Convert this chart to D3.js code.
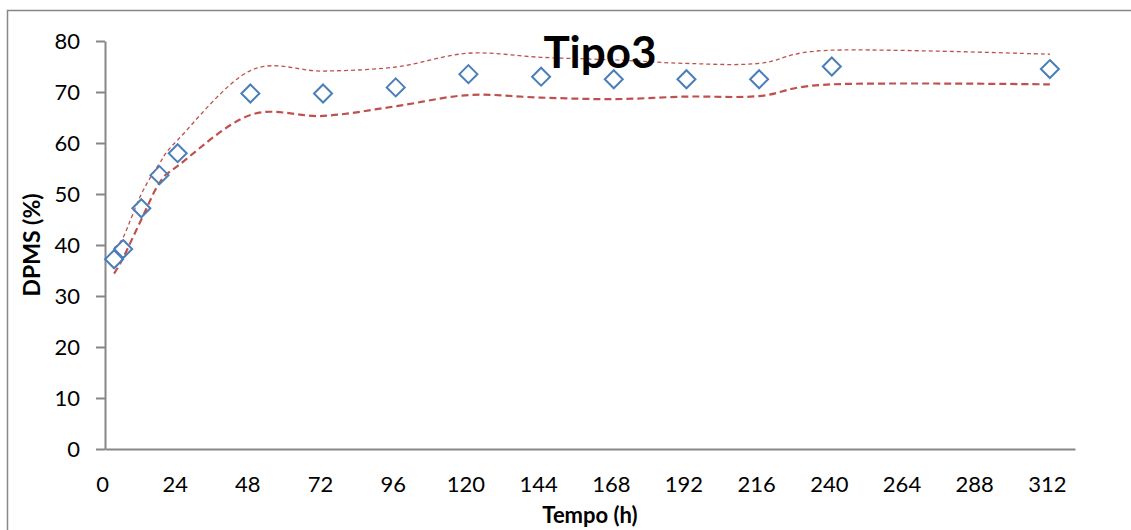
<!DOCTYPE html>
<html>
<head>
<meta charset="utf-8">
<script src="https://cdn.jsdelivr.net/npm/d3@7"></script>
<style>
  html, body { margin: 0; padding: 0; background: #fff; }
  svg { display: block; }
  text { font-family: Lato, "Open Sans", sans-serif; fill: #000; }
</style>
</head>
<body>
<svg id="chart" width="1131" height="530"></svg>
<script>
// ---- data ----
const hours = [3, 6, 12, 18, 24, 48, 72, 96, 120, 144, 168, 192, 216, 240, 312];
const dpms  = [37.2, 39.2, 47.2, 53.7, 58.0, 69.7, 69.7, 70.9, 73.5, 73.0, 72.5, 72.5, 72.5, 75.0, 74.5];
const upper = [39.5, 41.5, 50.0, 56.0, 60.6, 74.2, 74.1, 74.9, 77.6, 76.8, 76.3, 75.6, 75.6, 78.2, 77.4];
const lower = [34.4, 37.5, 45.0, 52.2, 55.5, 65.5, 65.3, 67.2, 69.4, 68.9, 68.6, 69.1, 69.2, 71.5, 71.5];
const xTicks = [0, 24, 48, 72, 96, 120, 144, 168, 192, 216, 240, 264, 288, 312];
const yTicks = [0, 10, 20, 30, 40, 50, 60, 70, 80];
const title = "Tipo3";
const xTitle = "Tempo (h)";
const yTitle = "DPMS (%)";

// ---- layout ----
const svg = d3.select("#chart");
const mLeft = 105, mRight = 1075, mTop = 41, mBottom = 449;
const axisColor = "#878787";
const red = "#c0504d";
const blue = "#4a7ebb";

// outer frame
svg.append("rect")
  .attr("x", 7.5).attr("y", 10.5)
  .attr("width", 1200).attr("height", 600)
  .attr("fill", "none").attr("stroke", axisColor).attr("stroke-width", 1.5);

const x = d3.scaleLinear().domain([0, 320.3]).range([mLeft, mRight]);
const y = d3.scaleLinear().domain([0, 80]).range([mBottom, mTop]);

// y axis
const yAxis = svg.append("g")
  .attr("transform", `translate(${mLeft},0)`)
  .call(d3.axisLeft(y).tickValues(yTicks).tickSize(9).tickSizeOuter(0).tickPadding(16));
yAxis.select(".domain").attr("stroke", axisColor).attr("stroke-width", 2);
yAxis.selectAll(".tick line").attr("stroke", axisColor).attr("stroke-width", 2);
yAxis.selectAll(".tick text").attr("font-size", 22).attr("font-family", "Lato, sans-serif").attr("fill", "#000");

// x axis
const xAxis = svg.append("g")
  .attr("transform", `translate(0,${mBottom})`)
  .call(d3.axisBottom(x).tickValues(xTicks).tickSize(0).tickSizeOuter(0).tickPadding(27));
xAxis.select(".domain").attr("stroke", axisColor).attr("stroke-width", 2);
xAxis.selectAll(".tick text").attr("font-size", 22).attr("font-family", "Lato, sans-serif").attr("fill", "#000")
  .attr("dx", -3);

// smoothed bounds
const line = d3.line().curve(d3.curveCatmullRom.alpha(0));
const upperPts = hours.map((h, i) => [x(h), y(upper[i])]);
const lowerPts = hours.map((h, i) => [x(h), y(lower[i])]);

svg.append("path")
  .attr("d", line(upperPts))
  .attr("fill", "none").attr("stroke", red).attr("stroke-width", 1.3)
  .attr("stroke-dasharray", "4,3");

svg.append("path")
  .attr("d", line(lowerPts))
  .attr("fill", "none").attr("stroke", red).attr("stroke-width", 2.2)
  .attr("stroke-dasharray", "7,4");

// diamond markers
const s = 9;
svg.append("g").selectAll("path")
  .data(hours.map((h, i) => [h, dpms[i]]))
  .join("path")
  .attr("transform", d => `translate(${x(d[0])},${y(d[1])})`)
  .attr("d", `M0,${-s}L${s},0L0,${s}L${-s},0Z`)
  .attr("fill", "none").attr("stroke", blue).attr("stroke-width", 2);

// titles
svg.append("text")
  .attr("x", 600).attr("y", 68)
  .attr("text-anchor", "middle")
  .attr("font-size", 44).attr("font-weight", "bold")
  .text(title);

svg.append("text")
  .attr("x", 590).attr("y", 523)
  .attr("text-anchor", "middle")
  .attr("font-size", 22).attr("font-weight", "bold")
  .text(xTitle);

svg.append("text")
  .attr("transform", `translate(40,${(mTop + mBottom) / 2}) rotate(-90)`)
  .attr("text-anchor", "middle")
  .attr("font-size", 23).attr("font-weight", "bold")
  .text(yTitle);
</script>
</body>
</html>
